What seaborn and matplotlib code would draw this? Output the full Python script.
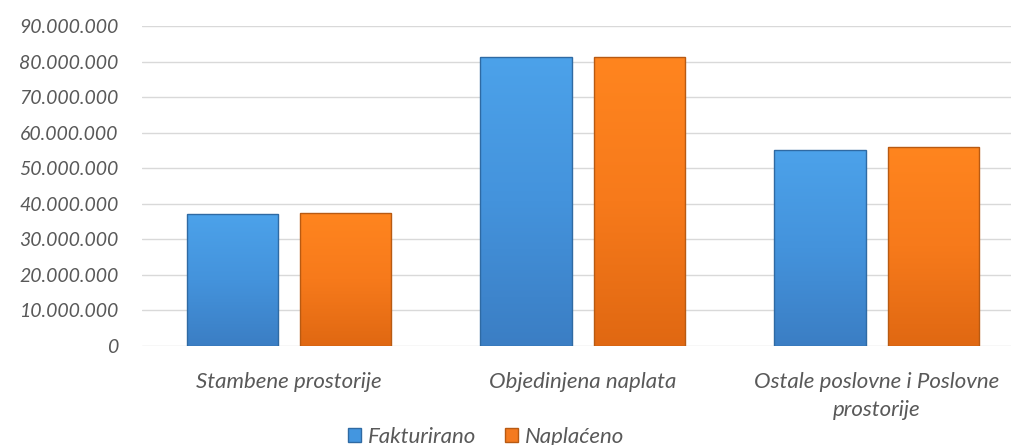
import numpy as np
import pandas as pd
import seaborn as sns
import matplotlib.pyplot as plt
from matplotlib.ticker import FuncFormatter
from matplotlib.patches import Patch, Rectangle
from matplotlib.colors import LinearSegmentedColormap

categories = ['Stambene prostorije', 'Objedinjena naplata', 'Ostale poslovne i Poslovne\nprostorije']
series = ['Fakturirano', 'Naplaćeno']
fakturirano = [37100000, 81300000, 55100000]
naplaceno = [37400000, 81300000, 55900000]

df = pd.DataFrame({
    'kategorija': categories * 2,
    'serija': [series[0]] * 3 + [series[1]] * 3,
    'iznos': fakturirano + naplaceno,
})

sns.set_style('white')
plt.rcParams['font.family'] = ['Lato', 'DejaVu Sans']

colors = {'Fakturirano': '#4396e0', 'Naplaćeno': '#f47a1f'}
edges = {'Fakturirano': '#2f6aa3', 'Naplaćeno': '#b85a12'}
# top -> bottom shading of the bars
shades = {'Fakturirano': ['#4ca2ea', '#4493dc', '#3b7ec4'],
          'Naplaćeno': ['#ff851f', '#f77a1b', '#e06812']}
text_col = '#595959'

fig = plt.figure(figsize=(10.12, 4.45), dpi=100)
ax = fig.add_axes([142 / 1012, 1 - 346 / 445, 870 / 1012, 320 / 445])

sns.barplot(data=df, x='kategorija', y='iznos', hue='serija', palette=colors,
            width=0.77, gap=0.19, ax=ax, legend=False, saturation=1)

ax.set_ylim(0, 90000000)
ax.set_xlim(-0.5, 2.46)

# gradient fill + darker outline per series
grad = np.linspace(0, 1, 256).reshape(-1, 1)
for cont, s in zip(ax.containers, series):
    cmap = LinearSegmentedColormap.from_list(s, shades[s])
    for bar in cont:
        bar.set_linewidth(0)
        x0, y0 = bar.get_x(), bar.get_y()
        w, h = bar.get_width(), bar.get_height()
        im = ax.imshow(grad, cmap=cmap, aspect='auto', origin='upper',
                       extent=(x0, x0 + w, y0, y0 + h), zorder=bar.get_zorder() + 0.1)
        im.set_clip_path(bar)
        ax.add_patch(Rectangle((x0, y0), w, h, fill=False, edgecolor=edges[s],
                               linewidth=1.0, zorder=bar.get_zorder() + 0.2))

ax.set_ylim(0, 90000000)
ax.set_xlim(-0.5, 2.46)
ax.set_yticks(np.arange(0, 90000001, 10000000))
ax.yaxis.set_major_formatter(FuncFormatter(lambda v, p: f'{int(v):,}'.replace(',', '.')))
ax.grid(axis='y', color='#d9d9d9', linewidth=1)
ax.set_axisbelow(True)
for sp in ax.spines.values():
    sp.set_visible(False)
ax.tick_params(axis='y', length=0, labelsize=14, labelcolor=text_col, pad=17)
ax.tick_params(axis='x', length=0, labelsize=16, labelcolor=text_col, pad=19)
for lbl in ax.get_xticklabels() + ax.get_yticklabels():
    lbl.set_fontstyle('italic')
for lbl in ax.get_xticklabels():
    lbl.set_linespacing(1.5)
ax.set_xlabel('')
ax.set_ylabel('')

handles = [Patch(facecolor=colors[s], edgecolor=edges[s]) for s in series]
fig.legend(handles, series, loc='center', bbox_to_anchor=(486 / 1012, 1 - 437 / 445),
           ncol=2, frameon=False, handlelength=0.6, handleheight=0.6, handletextpad=0.3,
           columnspacing=1.3, prop={'size': 16, 'style': 'italic'}, labelcolor=text_col)

fig.savefig('out.png', dpi=100)
